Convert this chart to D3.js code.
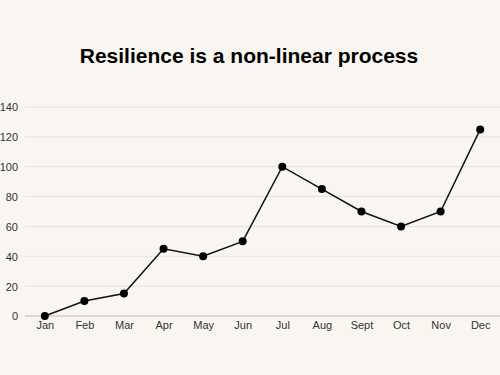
<!DOCTYPE html>
<html>
<head>
<meta charset="utf-8">
<script src="https://cdn.jsdelivr.net/npm/d3@7"></script>
<style>
  body { margin: 0; background: #f9f6f1; }
  svg { display: block; font-family: "Liberation Sans", Arial, sans-serif; }
  .grid line { stroke: #e6e2dc; stroke-width: 1; }
  .tick text { fill: #333; font-size: 11px; }
</style>
</head>
<body>
<div id="chart"></div>
<script>
// chart data
var months = ["Jan", "Feb", "Mar", "Apr", "May", "Jun", "Jul", "Aug", "Sept", "Oct", "Nov", "Dec"];
var values = [0, 10, 15, 45, 40, 50, 100, 85, 70, 60, 70, 125];
var yTicks = [0, 20, 40, 60, 80, 100, 120, 140];

var width = 500,
    height = 375,
    margin = { top: 107, right: 0, bottom: 59, left: 25 };

var svg = d3.select("#chart").append("svg")
    .attr("width", width)
    .attr("height", height);

svg.append("rect")
    .attr("width", width)
    .attr("height", height)
    .attr("fill", "#f9f6f1");

svg.append("text")
    .attr("x", width / 2 - 1)
    .attr("y", 63)
    .attr("text-anchor", "middle")
    .style("font-size", "21px")
    .style("font-weight", "bold")
    .style("fill", "#000")
    .text("Resilience is a non-linear process");

var x = d3.scalePoint()
    .domain(months)
    .range([margin.left, width - margin.right])
    .padding(0.5);

var y = d3.scaleLinear()
    .domain([0, 140])
    .range([height - margin.bottom, margin.top]);

// horizontal gridlines
var grid = svg.append("g").attr("class", "grid");
grid.selectAll("line")
    .data(yTicks.filter(function(d) { return d > 0; }))
  .enter().append("line")
    .attr("x1", margin.left)
    .attr("x2", width - margin.right)
    .attr("y1", function(d) { return y(d); })
    .attr("y2", function(d) { return y(d); });

// baseline
svg.append("line")
    .attr("x1", margin.left)
    .attr("x2", width - margin.right)
    .attr("y1", y(0))
    .attr("y2", y(0))
    .attr("stroke", "#bdb9b4");

// y axis labels
var yAxis = svg.append("g")
    .attr("transform", "translate(" + (margin.left - 7) + ",0)")
    .call(d3.axisLeft(y).tickValues(yTicks).tickSize(0).tickPadding(0));
yAxis.select(".domain").remove();
yAxis.selectAll("text").attr("dy", "0.35em");

// x axis labels
var xAxis = svg.append("g")
    .attr("transform", "translate(0," + (y(0) + 5) + ")")
    .call(d3.axisBottom(x).tickSize(0).tickPadding(0));
xAxis.select(".domain").remove();

// line
var line = d3.line()
    .x(function(d, i) { return x(months[i]); })
    .y(function(d) { return y(d); });

svg.append("path")
    .datum(values)
    .attr("fill", "none")
    .attr("stroke", "#111")
    .attr("stroke-width", 1.5)
    .attr("d", line);

svg.selectAll("circle.dot")
    .data(values)
  .enter().append("circle")
    .attr("class", "dot")
    .attr("cx", function(d, i) { return x(months[i]); })
    .attr("cy", function(d) { return y(d); })
    .attr("r", 4)
    .attr("fill", "#000");
</script>
</body>
</html>
